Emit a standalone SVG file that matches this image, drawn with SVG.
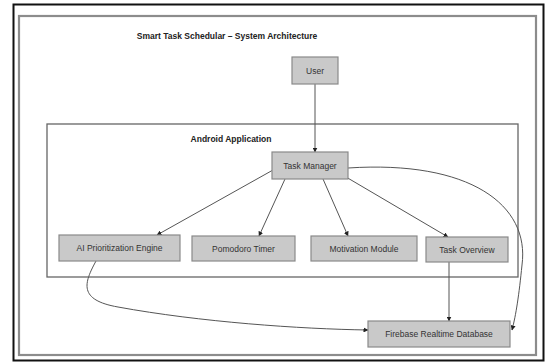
<svg xmlns="http://www.w3.org/2000/svg" width="547" height="362" viewBox="0 0 547 362">
<style>
text{font-family:"Liberation Sans",Arial,sans-serif;fill:#333;}
.lbl{font-size:8.5px;text-anchor:middle;dominant-baseline:central;}
.hdr{font-size:8.5px;font-weight:bold;text-anchor:middle;dominant-baseline:central;fill:#222;}
.box{fill:#c9c9c9;stroke:#8a8a8a;stroke-width:1.2;}
.edge{fill:none;stroke:#555;stroke-width:1;marker-end:url(#ah);}
</style>
<defs>
<marker id="ah" viewBox="0 0 10 10" refX="9" refY="5" markerWidth="5" markerHeight="5" orient="auto" markerUnits="userSpaceOnUse">
<path d="M0,0 L10,5 L0,10 z" fill="#222"/>
</marker>
</defs>
<rect x="0" y="0" width="547" height="362" fill="#fff"/>
<rect x="13.5" y="4.5" width="530" height="356" fill="none" stroke="#111" stroke-width="2"/>
<rect x="19" y="16" width="517" height="339" fill="none" stroke="#8c8c8c" stroke-width="2.2"/>
<text class="hdr" x="227" y="36">Smart Task Schedular – System Architecture</text>
<g id="android-application">
<rect x="47" y="124" width="471" height="153" fill="none" stroke="#666" stroke-width="1.3"/>
<text class="hdr" x="231" y="139">Android Application</text>
</g>
<g id="connectors">
<path class="edge" d="M315,84 L315,152"/>
<path class="edge" d="M273,170 L157,235"/>
<path class="edge" d="M285,179 L259,236"/>
<path class="edge" d="M323,179 L348,236"/>
<path class="edge" d="M346,177 L448,237"/>
<path class="edge" d="M348,168 C470,160 530,205 522,265 C519,295 516,315 512,330"/>
<path class="edge" d="M96,261 C84,283 78,300 118,307 C200,322 300,329 368,330"/>
<path class="edge" d="M449,262 L449,321"/>
</g>
<g id="user"><rect class="box" x="292" y="57" width="46" height="27"/><text class="lbl" x="315" y="70.5">User</text></g>
<g id="task-manager"><rect class="box" x="272" y="152" width="76" height="27"/><text class="lbl" x="310" y="165.5">Task Manager</text></g>
<g id="ai-engine"><rect class="box" x="59" y="235" width="121" height="26"/><text class="lbl" x="119.5" y="248">AI Prioritization Engine</text></g>
<g id="pomodoro-timer"><rect class="box" x="192" y="236" width="103" height="25"/><text class="lbl" x="243.5" y="248.5">Pomodoro Timer</text></g>
<g id="motivation-module"><rect class="box" x="311" y="236" width="106" height="25"/><text class="lbl" x="364" y="248.5">Motivation Module</text></g>
<g id="task-overview"><rect class="box" x="426" y="237" width="82" height="25"/><text class="lbl" x="467" y="249.5">Task Overview</text></g>
<g id="firebase"><rect class="box" x="368" y="321" width="142" height="26"/><text class="lbl" x="439" y="334">Firebase Realtime Database</text></g>
</svg>
